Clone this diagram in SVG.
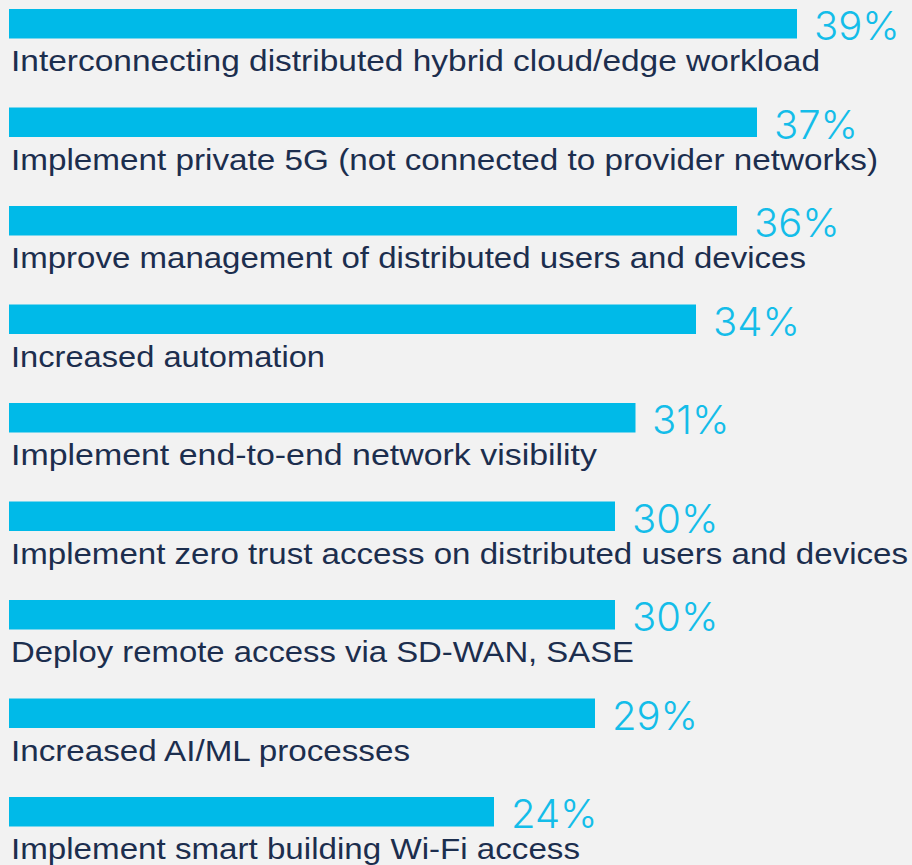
<svg xmlns="http://www.w3.org/2000/svg" width="912" height="865" viewBox="0 0 912 865">
<style>
.bar{fill:#00BAE8}
.lbl{font-family:"Liberation Sans",Arial,sans-serif;font-size:30px;fill:#1c2e4e}
.pct{font-family:Inter,"Liberation Sans",sans-serif;font-weight:300;font-size:40px;fill:#14bde9}
</style>
<rect width="912" height="865" fill="#f2f2f2"/>
<g id="row1"><rect class="bar" x="9" y="9" width="788" height="29.5"/><text class="pct" x="814" y="40">39%</text><text class="lbl" x="11" y="71" textLength="809" lengthAdjust="spacingAndGlyphs">Interconnecting distributed hybrid cloud/edge workload</text></g>
<g id="row2"><rect class="bar" x="9" y="107.5" width="748" height="29.5"/><text class="pct" x="774" y="138.5">37%</text><text class="lbl" x="11" y="169.5" textLength="867" lengthAdjust="spacingAndGlyphs">Implement private 5G (not connected to provider networks)</text></g>
<g id="row3"><rect class="bar" x="9" y="206" width="728" height="29.5"/><text class="pct" x="754" y="237">36%</text><text class="lbl" x="11" y="268" textLength="795" lengthAdjust="spacingAndGlyphs">Improve management of distributed users and devices</text></g>
<g id="row4"><rect class="bar" x="9" y="304.5" width="687" height="29.5"/><text class="pct" x="713" y="335.5">34%</text><text class="lbl" x="11" y="366.5" textLength="314" lengthAdjust="spacingAndGlyphs">Increased automation</text></g>
<g id="row5"><rect class="bar" x="9" y="403" width="626.5" height="29.5"/><text class="pct" x="652" y="434">31%</text><text class="lbl" x="11" y="465" textLength="586" lengthAdjust="spacingAndGlyphs">Implement end-to-end network visibility</text></g>
<g id="row6"><rect class="bar" x="9" y="501.5" width="606" height="29.5"/><text class="pct" x="632" y="532.5">30%</text><text class="lbl" x="11" y="563.5" textLength="897" lengthAdjust="spacingAndGlyphs">Implement zero trust access on distributed users and devices</text></g>
<g id="row7"><rect class="bar" x="9" y="600" width="606" height="29.5"/><text class="pct" x="632" y="631">30%</text><text class="lbl" x="11" y="662" textLength="623" lengthAdjust="spacingAndGlyphs">Deploy remote access via SD-WAN, SASE</text></g>
<g id="row8"><rect class="bar" x="9" y="698.5" width="586" height="29.5"/><text class="pct" x="612" y="729.5">29%</text><text class="lbl" x="11" y="760.5" textLength="399" lengthAdjust="spacingAndGlyphs">Increased AI/ML processes</text></g>
<g id="row9"><rect class="bar" x="9" y="797" width="485" height="29.5"/><text class="pct" x="511" y="828">24%</text><text class="lbl" x="11" y="859" textLength="569" lengthAdjust="spacingAndGlyphs">Implement smart building Wi-Fi access</text></g>
</svg>
